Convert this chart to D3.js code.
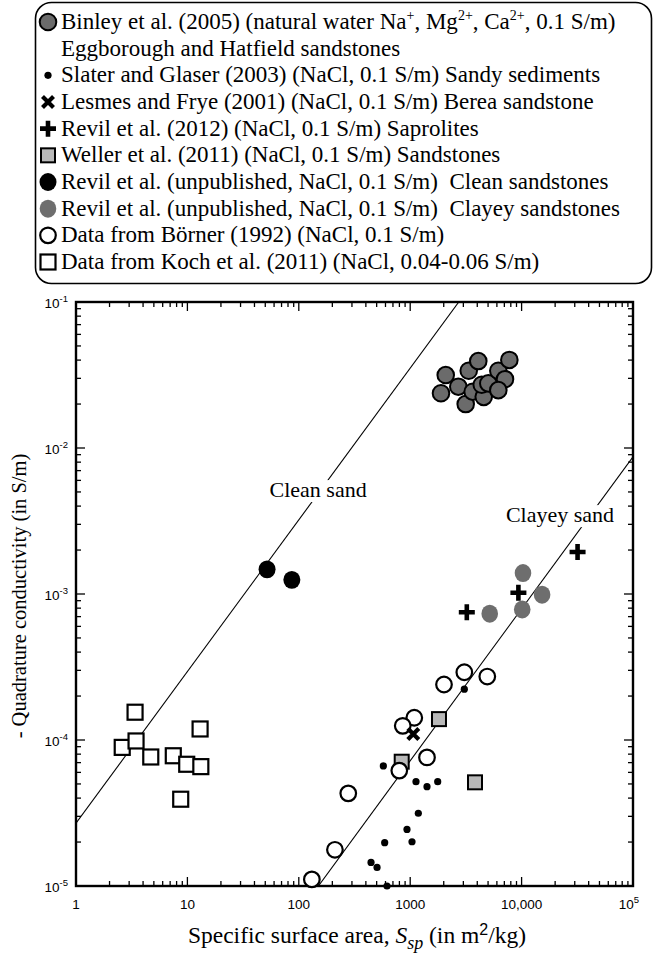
<!DOCTYPE html>
<html>
<head>
<meta charset="utf-8">
<script src="https://cdn.jsdelivr.net/npm/d3@7"></script>
<style>
  html, body { margin: 0; padding: 0; background: #fff; }
  svg { display: block; }
</style>
</head>
<body>
<svg id="chart" width="670" height="955"></svg>
<script>
// Specific surface area (m2/kg) and quadrature conductivity (S/m) per data set
const binleyS = [2084, 1890, 2703, 3352, 4085, 3149, 3639, 4571, 4386, 5026, 6180, 7762, 7096, 6180];
const binleyQ = [0.0316, 0.0237, 0.0263, 0.0338, 0.0394, 0.0200, 0.0243, 0.0224, 0.0271, 0.0277, 0.0338, 0.0401, 0.0296, 0.0249];

const slaterS = [3060, 574, 1127, 1415, 1766, 1183, 936, 1038, 590, 445, 504, 619];
const slaterQ = [2.23e-4, 6.64e-5, 5.18e-5, 4.79e-5, 5.18e-5, 3.15e-5, 2.44e-5, 2.01e-5, 1.98e-5, 1.45e-5, 1.34e-5, 1.0e-5];

const lesmesS = [1066];
const lesmesQ = [1.1e-4];

const revil2012S = [31800, 9360, 3222];
const revil2012Q = [1.94e-3, 1.02e-3, 7.5e-4];

const wellerS = [1813, 839, 3817];
const wellerQ = [1.39e-4, 7.1e-5, 5.13e-5];

const revilCleanS = [51.9, 86.6];
const revilCleanQ = [1.475e-3, 1.25e-3];

const revilClayeyS = [10290, 15270, 5176, 10130];
const revilClayeyQ = [1.39e-3, 9.9e-4, 7.33e-4, 7.83e-4];

const bornerS = [3060, 4920, 2011, 1088, 857, 1415, 798, 278, 211, 131];
const bornerQ = [2.91e-4, 2.72e-4, 2.4e-4, 1.42e-4, 1.25e-4, 7.6e-5, 6.17e-5, 4.31e-5, 1.77e-5, 1.11e-5];

const kochS = [3.39, 2.60, 3.46, 4.69, 7.47, 9.86, 13.2, 13.0, 8.71];
const kochQ = [1.55e-4, 8.9e-5, 9.85e-5, 7.65e-5, 7.8e-5, 6.82e-5, 6.57e-5, 1.19e-4, 3.93e-5];

// Trend lines (end points)
const cleanLineS = [1, 2729];
const cleanLineQ = [2.69e-5, 0.1];
const clayeyLineS = [150, 1e5];
const clayeyLineQ = [1e-5, 8.7e-3];

// Trend line labels
const lineLabels = ["Clean sand", "Clayey sand"];
const lineLabelS = [149, 22130];
const lineLabelQ = [5.15e-3, 3.47e-3];

// Axis tick labels
const xTickValues = [1, 10, 100, 1000, 10000, 100000];
const xTickLabels = ["1", "10", "100", "1000", "10,000", null];
const yTickValues = [1e-5, 1e-4, 1e-3, 1e-2, 1e-1];
const yTickExps = ["-5", "-4", "-3", "-2", "-1"];

// Legend entries (segments: plain text or superscript)
const legendItems = [
  { sym: "binley", text: [["Binley et al. (2005) (natural water Na"], ["+", "sup"], [", Mg"], ["2+", "sup"], [", Ca"], ["2+", "sup"], [", 0.1 S/m)"]] },
  { sym: null, text: [["Eggborough and Hatfield sandstones"]] },
  { sym: "dot", text: [["Slater and Glaser (2003) (NaCl, 0.1 S/m) Sandy sediments"]] },
  { sym: "x", text: [["Lesmes and Frye (2001) (NaCl, 0.1 S/m) Berea sandstone"]] },
  { sym: "plus", text: [["Revil et al. (2012) (NaCl, 0.1 S/m) Saprolites"]] },
  { sym: "greysq", text: [["Weller et al. (2011) (NaCl, 0.1 S/m) Sandstones"]] },
  { sym: "black", text: [["Revil et al. (unpublished, NaCl, 0.1 S/m)  Clean sandstones"]] },
  { sym: "grey", text: [["Revil et al. (unpublished, NaCl, 0.1 S/m)  Clayey sandstones"]] },
  { sym: "open", text: [["Data from Börner (1992) (NaCl, 0.1 S/m)"]] },
  { sym: "opensq", text: [["Data from Koch et al. (2011) (NaCl, 0.04-0.06 S/m)"]] }
];

const svg = d3.select("#chart");
const serif = "Liberation Serif, DejaVu Serif, Noto Serif, Times New Roman, Times, serif";
const sans = "Liberation Sans, Arial, Helvetica, sans-serif";

const plotL = 76, plotR = 633, plotT = 302, plotB = 886;
const x = d3.scaleLog().domain([1, 1e5]).range([plotL, plotR]);
const y = d3.scaleLog().domain([1e-5, 1e-1]).range([plotB, plotT]);

// Symbol painters
const painters = {
  binley: (g, cx, cy) => g.append("circle").attr("cx", cx).attr("cy", cy).attr("r", 8.3)
    .attr("fill", "#6b6b6b").attr("stroke", "#000").attr("stroke-width", 2),
  dot: (g, cx, cy) => g.append("circle").attr("cx", cx).attr("cy", cy).attr("r", 3.6).attr("fill", "#000"),
  x: (g, cx, cy) => {
    const s = 5.5;
    g.append("path").attr("d", `M${cx - s},${cy - s}L${cx + s},${cy + s}M${cx - s},${cy + s}L${cx + s},${cy - s}`)
      .attr("stroke", "#000").attr("stroke-width", 4.2).attr("fill", "none");
  },
  plus: (g, cx, cy) => {
    const s = 8;
    g.append("path").attr("d", `M${cx - s},${cy}L${cx + s},${cy}M${cx},${cy - s}L${cx},${cy + s}`)
      .attr("stroke", "#000").attr("stroke-width", 4.6).attr("fill", "none");
  },
  greysq: (g, cx, cy) => g.append("rect").attr("x", cx - 7).attr("y", cy - 7).attr("width", 14).attr("height", 14)
    .attr("fill", "#b9b9b9").attr("stroke", "#000").attr("stroke-width", 2),
  black: (g, cx, cy) => g.append("ellipse").attr("cx", cx).attr("cy", cy).attr("rx", 8.5).attr("ry", 8.9).attr("fill", "#000"),
  grey: (g, cx, cy) => g.append("ellipse").attr("cx", cx).attr("cy", cy).attr("rx", 8.3).attr("ry", 9).attr("fill", "#6e6e6e"),
  open: (g, cx, cy) => g.append("circle").attr("cx", cx).attr("cy", cy).attr("r", 7.8)
    .attr("fill", "#fff").attr("stroke", "#000").attr("stroke-width", 2.2),
  opensq: (g, cx, cy) => g.append("rect").attr("x", cx - 7.5).attr("y", cy - 7.5).attr("width", 15).attr("height", 15)
    .attr("fill", "#fff").attr("stroke", "#000").attr("stroke-width", 2.2)
};

// ---------- Legend ----------
const legend = svg.append("g");
legend.append("rect").attr("x", 35.5).attr("y", 2.5).attr("width", 616).attr("height", 281)
  .attr("rx", 16).attr("fill", "#fff").attr("stroke", "#000").attr("stroke-width", 1.6);

const legendFont = 23;
const rowY = d3.scaleLinear().domain([0, legendItems.length - 1]).range([22, 262]);
legendItems.forEach((item, i) => {
  const cy = rowY(i);
  if (item.sym) painters[item.sym](legend, 48, cy);
  const t = legend.append("text").attr("x", 61).attr("y", cy + 7)
    .style("font-family", serif).attr("font-size", legendFont).attr("fill", "#000")
    .style("white-space", "pre");
  let shift = 0;
  item.text.forEach(([s, kind]) => {
    const ts = t.append("tspan").text(s);
    if (kind === "sup") {
      ts.attr("font-size", 14).attr("dy", -9 - shift);
      shift = -9;
    } else {
      ts.attr("dy", -shift);
      shift = 0;
    }
  });
});

// ---------- Plot frame and ticks ----------
const plot = svg.append("g");
plot.append("clipPath").attr("id", "clip").append("rect")
  .attr("x", plotL).attr("y", plotT).attr("width", plotR - plotL).attr("height", plotB - plotT);

// Minor/major log ticks along both axes, pointing inward on all four sides
const xTicks = [];
for (let e = 0; e < 5; e++) for (let m = 1; m < 10; m++) xTicks.push({ v: m * Math.pow(10, e), major: m === 1 });
xTicks.push({ v: 1e5, major: true });
const yTicks = [];
for (let e = -5; e < -1; e++) for (let m = 1; m < 10; m++) yTicks.push({ v: m * Math.pow(10, e), major: m === 1 });
yTicks.push({ v: 0.1, major: true });

const tickG = plot.append("g").attr("stroke", "#000").attr("stroke-width", 1.3);
xTicks.forEach(t => {
  const px = x(t.v), len = t.major ? 9 : 5;
  tickG.append("line").attr("x1", px).attr("x2", px).attr("y1", plotB).attr("y2", plotB - len);
  tickG.append("line").attr("x1", px).attr("x2", px).attr("y1", plotT).attr("y2", plotT + len);
});
yTicks.forEach(t => {
  const py = y(t.v), len = t.major ? 9 : 5;
  tickG.append("line").attr("x1", plotL).attr("x2", plotL + len).attr("y1", py).attr("y2", py);
  tickG.append("line").attr("x1", plotR).attr("x2", plotR - len).attr("y1", py).attr("y2", py);
});

plot.append("rect").attr("x", plotL).attr("y", plotT).attr("width", plotR - plotL).attr("height", plotB - plotT)
  .attr("fill", "none").attr("stroke", "#000").attr("stroke-width", 2.4);

// x tick labels
xTickValues.forEach((v, i) => {
  const t = plot.append("text").attr("x", x(v)).attr("y", plotB + 23)
    .attr("text-anchor", "middle").style("font-family", sans).attr("font-size", 13.5).attr("fill", "#000");
  if (xTickLabels[i] !== null) t.text(xTickLabels[i]);
  else {
    t.attr("x", x(v) - 4).append("tspan").text("10");
    t.append("tspan").attr("font-size", 9.5).attr("dy", -6).text("5");
  }
});
// y tick labels
yTickValues.forEach((v, i) => {
  const t = plot.append("text").attr("x", plotL - 8).attr("y", y(v) + 5.5)
    .attr("text-anchor", "end").style("font-family", sans).attr("font-size", 13.5).attr("fill", "#000");
  t.append("tspan").text("10");
  t.append("tspan").attr("font-size", 9.5).attr("dy", -6).text(yTickExps[i]);
});

// ---------- Trend lines ----------
const lineGen = d3.line().x(d => x(d[0])).y(d => y(d[1]));
const lines = plot.append("g").attr("clip-path", "url(#clip)");
[[cleanLineS, cleanLineQ], [clayeyLineS, clayeyLineQ]].forEach(([S, Q]) => {
  lines.append("path").datum(S.map((s, i) => [s, Q[i]])).attr("d", lineGen)
    .attr("fill", "none").attr("stroke", "#000").attr("stroke-width", 1.1);
});
lineLabels.forEach((lab, i) => {
  const t = plot.append("text").attr("x", x(lineLabelS[i])).attr("y", y(lineLabelQ[i]) + 7)
    .attr("text-anchor", "middle").style("font-family", serif).attr("font-size", 22).attr("fill", "#000")
    .text(lab);
  const bb = t.node().getBBox();
  plot.insert("rect", () => t.node()).attr("x", bb.x - 2).attr("y", bb.y + 3).attr("width", bb.width + 4)
    .attr("height", bb.height - 3).attr("fill", "#fff");
});

// ---------- Data points ----------
const marks = plot.append("g");
function drawSet(S, Q, sym) {
  S.forEach((s, i) => painters[sym](marks, x(s), y(Q[i])));
}
drawSet(kochS, kochQ, "opensq");
drawSet(revilCleanS, revilCleanQ, "black");
drawSet(slaterS, slaterQ, "dot");
drawSet(wellerS, wellerQ, "greysq");
drawSet(bornerS, bornerQ, "open");
drawSet(lesmesS, lesmesQ, "x");
drawSet(revil2012S, revil2012Q, "plus");
drawSet(revilClayeyS, revilClayeyQ, "grey");
drawSet(binleyS, binleyQ, "binley");

// ---------- Axis titles ----------
const xt = svg.append("text").attr("x", 357).attr("y", 943).attr("text-anchor", "middle")
  .style("font-family", serif).attr("font-size", 23.5).attr("fill", "#000");
xt.append("tspan").text("Specific surface area, ");
xt.append("tspan").attr("font-style", "italic").text("S");
xt.append("tspan").attr("font-style", "italic").attr("font-size", 18).attr("dy", 6).text("sp");
xt.append("tspan").attr("dy", -6).text(" (in m");
xt.append("tspan").style("font-family", sans).attr("font-size", 16).attr("dy", -8).text("2");
xt.append("tspan").attr("dy", 8).text("/kg)");

svg.append("text").attr("transform", `translate(26,596) rotate(-90)`)
  .attr("text-anchor", "middle").style("font-family", serif).attr("font-size", 20.5).attr("fill", "#000")
  .text("- Quadrature conductivity (in S/m)");
</script>
</body>
</html>
